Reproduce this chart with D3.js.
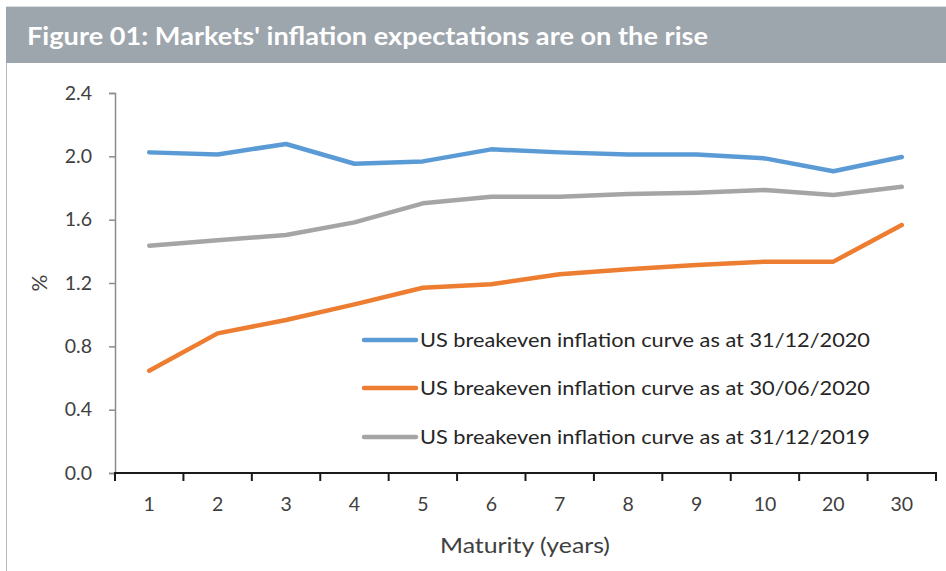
<!DOCTYPE html>
<html>
<head>
<meta charset="utf-8">
<script src="https://cdn.jsdelivr.net/npm/d3@7"></script>
<style>
  html, body { margin: 0; padding: 0; background: #fff; }
  svg { display: block; }
  text { font-family: Lato, "Noto Sans", sans-serif; }
</style>
</head>
<body>
<svg id="chart" width="946" height="571"></svg>
<script>
const title = "Figure 01: Markets' inflation expectations are on the rise";
const maturities = ["1", "2", "3", "4", "5", "6", "7", "8", "9", "10", "20", "30"];
const yTicks = [0.0, 0.4, 0.8, 1.2, 1.6, 2.0, 2.4];
const seriesNames = [
  "US breakeven inflation curve as at 31/12/2020",
  "US breakeven inflation curve as at 30/06/2020",
  "US breakeven inflation curve as at 31/12/2019"
];
const dec2020 = [2.025, 2.012, 2.078, 1.953, 1.968, 2.044, 2.025, 2.012, 2.012, 1.987, 1.906, 1.996];
const jun2020 = [0.646, 0.882, 0.966, 1.065, 1.170, 1.192, 1.255, 1.287, 1.314, 1.335, 1.335, 1.566];
const dec2019 = [1.436, 1.470, 1.503, 1.583, 1.703, 1.745, 1.745, 1.762, 1.770, 1.787, 1.756, 1.808];
const colors = ["#5B9BD5", "#ED7D31", "#A5A5A5"];

const svg = d3.select("#chart");

// Frame and title bar
svg.append("line").attr("x1", 6.5).attr("x2", 6.5).attr("y1", 62).attr("y2", 571)
  .attr("stroke", "#B4BAC0").attr("stroke-width", 1);
svg.append("rect").attr("x", 6).attr("y", 6).attr("width", 940).attr("height", 1)
  .attr("fill", "#DCDFE2");
svg.append("rect").attr("x", 6).attr("y", 7).attr("width", 940).attr("height", 56)
  .attr("fill", "#9DA5AD");
svg.append("text").attr("x", 27).attr("y", 45)
  .attr("fill", "#fff").attr("font-size", 25).attr("font-weight", 700)
  .attr("textLength", 681).attr("lengthAdjust", "spacingAndGlyphs")
  .text(title);

const x = d3.scaleBand().domain(maturities).range([115, 936]);
const y = d3.scaleLinear().domain([0, 2.4]).range([473, 93]);

// Y axis
const yAxis = svg.append("g").attr("transform", "translate(115,0)")
  .call(d3.axisLeft(y).tickValues(yTicks).tickFormat(d3.format(".1f")).tickSize(6).tickPadding(17));
yAxis.select(".domain").attr("stroke", "#8C8C8C").attr("stroke-width", 1.5);
yAxis.selectAll(".tick line").attr("stroke", "#8C8C8C").attr("stroke-width", 1.5);
yAxis.selectAll(".tick text").attr("font-size", 19.5).attr("fill", "#404040")
  .attr("font-family", "Lato, 'Noto Sans', sans-serif");

// X axis
const xAxis = svg.append("g").attr("transform", "translate(0,473)")
  .call(d3.axisBottom(x).tickSize(0).tickPadding(24));
xAxis.select(".domain").remove();
xAxis.selectAll(".tick text").attr("font-size", 19.5).attr("fill", "#404040")
  .attr("font-family", "Lato, 'Noto Sans', sans-serif");
svg.append("line").attr("x1", 114).attr("x2", 937).attr("y1", 473).attr("y2", 473)
  .attr("stroke", "#1a1a1a").attr("stroke-width", 2);
const bounds = maturities.map(m => x(m)).concat([x.range()[1]]);
svg.append("g").selectAll("line").data(bounds).join("line")
  .attr("x1", d => d).attr("x2", d => d).attr("y1", 473).attr("y2", 481)
  .attr("stroke", "#1a1a1a").attr("stroke-width", 2);

// Axis titles
svg.append("text").attr("transform", "translate(47,283) rotate(-90)")
  .attr("text-anchor", "middle").attr("font-size", 21).attr("fill", "#404040").text("%");
svg.append("text").attr("x", 525).attr("y", 553).attr("text-anchor", "middle")
  .attr("font-size", 22).attr("fill", "#404040")
  .attr("textLength", 170).attr("lengthAdjust", "spacingAndGlyphs")
  .text("Maturity (years)");

// Lines
const allSeries = [dec2020, jun2020, dec2019];
const line = d3.line().x((d, i) => x(maturities[i]) + x.bandwidth() / 2).y(d => y(d));
svg.append("g").selectAll("path").data(allSeries).join("path")
  .attr("d", d => line(d)).attr("fill", "none")
  .attr("stroke", (d, i) => colors[i]).attr("stroke-width", 4.5)
  .attr("stroke-linejoin", "round").attr("stroke-linecap", "round");

// Legend
const legendY = [340, 388, 437];
const lg = svg.append("g").selectAll("g").data(seriesNames).join("g")
  .attr("transform", (d, i) => `translate(0,${legendY[i]})`);
lg.append("line").attr("x1", 364).attr("x2", 416).attr("y1", 0).attr("y2", 0)
  .attr("stroke", (d, i) => colors[i]).attr("stroke-width", 4.5).attr("stroke-linecap", "round");
lg.append("text").attr("x", 420).attr("y", 7).attr("font-size", 20).attr("fill", "#262626")
  .attr("textLength", 450).attr("lengthAdjust", "spacingAndGlyphs")
  .text(d => d);
</script>
</body>
</html>
